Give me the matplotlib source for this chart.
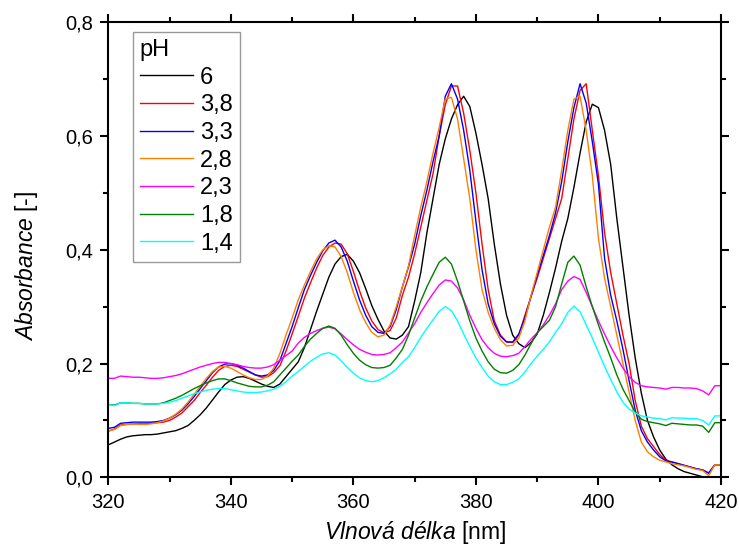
import numpy as np
import matplotlib
matplotlib.use("Agg")
import matplotlib.pyplot as plt
from matplotlib.ticker import MultipleLocator, FuncFormatter

# ---- data: absorbance spectra (1 nm step) ----
wavelength = np.arange(320, 421)

ph_6 = [
    0.057, 0.062, 0.067, 0.071, 0.073, 0.074, 0.075, 0.075, 0.076, 0.078,
    0.080, 0.082, 0.086, 0.091, 0.100, 0.110, 0.122, 0.136, 0.150, 0.163,
    0.171, 0.176, 0.177, 0.174, 0.169, 0.164, 0.160, 0.158, 0.164, 0.177,
    0.190, 0.203, 0.228, 0.260, 0.292, 0.322, 0.352, 0.375, 0.388, 0.392,
    0.380, 0.360, 0.332, 0.302, 0.278, 0.257, 0.245, 0.243, 0.250, 0.265,
    0.310, 0.360, 0.430, 0.490, 0.550, 0.595, 0.630, 0.655, 0.670, 0.652,
    0.605, 0.550, 0.490, 0.410, 0.340, 0.285, 0.250, 0.235, 0.228, 0.237,
    0.252, 0.285, 0.325, 0.368, 0.415, 0.455, 0.510, 0.570, 0.625, 0.656,
    0.650, 0.610, 0.550, 0.455, 0.370, 0.285, 0.210, 0.148, 0.100, 0.071,
    0.048, 0.032, 0.022, 0.015, 0.010, 0.007, 0.004, 0.001, 0.000, -0.002,
    -0.003,
]
ph_3_8 = [
    0.081, 0.085, 0.092, 0.093, 0.094, 0.094, 0.094, 0.095, 0.096, 0.097,
    0.100, 0.106, 0.113, 0.124, 0.135, 0.149, 0.162, 0.176, 0.188, 0.195,
    0.197, 0.195, 0.190, 0.185, 0.180, 0.176, 0.177, 0.184, 0.196, 0.222,
    0.252, 0.283, 0.315, 0.342, 0.368, 0.390, 0.405, 0.412, 0.410, 0.393,
    0.362, 0.328, 0.298, 0.275, 0.260, 0.254, 0.258, 0.280, 0.320, 0.352,
    0.393, 0.440, 0.487, 0.534, 0.600, 0.655, 0.688, 0.688, 0.640, 0.575,
    0.500, 0.410, 0.330, 0.275, 0.250, 0.238, 0.237, 0.250, 0.285, 0.318,
    0.350, 0.385, 0.420, 0.455, 0.490, 0.560, 0.630, 0.680, 0.692, 0.610,
    0.530, 0.430, 0.360, 0.305, 0.250, 0.200, 0.135, 0.090, 0.068, 0.054,
    0.040, 0.030, 0.027, 0.024, 0.021, 0.018, 0.015, 0.013, 0.008, 0.022,
    0.022,
]
ph_3_3 = [
    0.086, 0.088, 0.095, 0.096, 0.097, 0.097, 0.097, 0.097, 0.098, 0.100,
    0.104, 0.110, 0.118, 0.129, 0.142, 0.156, 0.170, 0.184, 0.194, 0.199,
    0.200, 0.197, 0.192, 0.186, 0.180, 0.178, 0.180, 0.188, 0.205, 0.235,
    0.265, 0.298, 0.330, 0.355, 0.378, 0.398, 0.412, 0.417, 0.405, 0.380,
    0.345, 0.312, 0.285, 0.265, 0.255, 0.253, 0.265, 0.295, 0.335, 0.370,
    0.410, 0.460, 0.505, 0.555, 0.600, 0.670, 0.692, 0.665, 0.610, 0.540,
    0.450, 0.365, 0.305, 0.270, 0.248, 0.238, 0.238, 0.252, 0.280, 0.318,
    0.355, 0.390, 0.425, 0.465, 0.520, 0.590, 0.650, 0.692, 0.658, 0.590,
    0.515, 0.385, 0.320, 0.275, 0.225, 0.170, 0.118, 0.082, 0.062, 0.048,
    0.036, 0.029, 0.027, 0.024, 0.021, 0.018, 0.015, 0.013, 0.007, 0.022,
    0.022,
]
ph_2_8 = [
    0.082, 0.084, 0.091, 0.093, 0.094, 0.093, 0.093, 0.094, 0.096, 0.099,
    0.104, 0.111, 0.120, 0.132, 0.146, 0.160, 0.174, 0.186, 0.194, 0.195,
    0.192, 0.186, 0.180, 0.175, 0.172, 0.172, 0.178, 0.192, 0.218, 0.250,
    0.280, 0.312, 0.338, 0.362, 0.384, 0.400, 0.407, 0.405, 0.388, 0.360,
    0.325, 0.295, 0.272, 0.255, 0.247, 0.250, 0.268, 0.300, 0.335, 0.372,
    0.425, 0.475, 0.520, 0.570, 0.615, 0.665, 0.668, 0.630, 0.560, 0.490,
    0.400, 0.330, 0.290, 0.262, 0.242, 0.231, 0.232, 0.245, 0.275, 0.320,
    0.360, 0.400, 0.440, 0.475, 0.540, 0.610, 0.665, 0.670, 0.610, 0.530,
    0.420, 0.350, 0.300, 0.250, 0.200, 0.150, 0.100, 0.062, 0.045, 0.036,
    0.030, 0.027, 0.024, 0.022, 0.020, 0.017, 0.014, 0.012, 0.003, 0.022,
    0.022,
]
ph_2_3 = [
    0.174, 0.174, 0.178, 0.177, 0.176, 0.176, 0.175, 0.174, 0.174, 0.175,
    0.177, 0.179, 0.182, 0.186, 0.190, 0.194, 0.197, 0.200, 0.202, 0.202,
    0.200, 0.198, 0.195, 0.193, 0.192, 0.192, 0.194, 0.198, 0.206, 0.214,
    0.222, 0.236, 0.246, 0.253, 0.258, 0.262, 0.264, 0.261, 0.252, 0.242,
    0.233, 0.225, 0.220, 0.216, 0.215, 0.216, 0.219, 0.228, 0.238, 0.254,
    0.270, 0.290, 0.307, 0.323, 0.338, 0.347, 0.345, 0.333, 0.312, 0.285,
    0.262, 0.242, 0.228, 0.218, 0.213, 0.212, 0.214, 0.218, 0.230, 0.243,
    0.254, 0.268, 0.285, 0.305, 0.330, 0.345, 0.353, 0.348, 0.325, 0.300,
    0.275, 0.252, 0.230, 0.210, 0.192, 0.177, 0.167, 0.161, 0.159, 0.158,
    0.157, 0.155, 0.158, 0.158, 0.157, 0.157, 0.156, 0.152, 0.145, 0.161,
    0.161,
]
ph_1_8 = [
    0.128, 0.127, 0.131, 0.131, 0.130, 0.130, 0.129, 0.129, 0.129, 0.131,
    0.135, 0.139, 0.144, 0.150, 0.156, 0.161, 0.166, 0.170, 0.173, 0.173,
    0.170, 0.166, 0.163, 0.160, 0.159, 0.159, 0.162, 0.168, 0.180, 0.192,
    0.204, 0.215, 0.230, 0.243, 0.253, 0.262, 0.266, 0.262, 0.250, 0.233,
    0.218, 0.206, 0.198, 0.193, 0.192, 0.193, 0.197, 0.210, 0.225, 0.250,
    0.280, 0.310, 0.335, 0.357, 0.378, 0.387, 0.375, 0.345, 0.310, 0.275,
    0.245, 0.222, 0.203, 0.190, 0.184, 0.183, 0.188, 0.198, 0.215, 0.235,
    0.254, 0.265, 0.276, 0.300, 0.340, 0.378, 0.389, 0.373, 0.335, 0.300,
    0.268, 0.238, 0.210, 0.180, 0.155, 0.135, 0.115, 0.102, 0.098, 0.096,
    0.094, 0.091, 0.095, 0.094, 0.093, 0.092, 0.092, 0.090, 0.079, 0.096,
    0.096,
]
ph_1_4 = [
    0.128, 0.126, 0.131, 0.131, 0.130, 0.130, 0.129, 0.129, 0.129, 0.130,
    0.132, 0.135, 0.139, 0.143, 0.147, 0.150, 0.153, 0.155, 0.156, 0.156,
    0.154, 0.152, 0.150, 0.149, 0.149, 0.150, 0.152, 0.155, 0.160, 0.168,
    0.178, 0.186, 0.195, 0.204, 0.211, 0.217, 0.219, 0.215, 0.205, 0.193,
    0.183, 0.175, 0.170, 0.168, 0.170, 0.175, 0.182, 0.190, 0.202, 0.212,
    0.228, 0.246, 0.262, 0.277, 0.292, 0.300, 0.293, 0.275, 0.252, 0.230,
    0.210, 0.193, 0.178, 0.168, 0.163, 0.163, 0.167, 0.173, 0.185, 0.200,
    0.213, 0.225, 0.238, 0.255, 0.270, 0.290, 0.301, 0.291, 0.268, 0.245,
    0.220, 0.195, 0.172, 0.150, 0.132, 0.120, 0.113, 0.108, 0.106, 0.104,
    0.103, 0.101, 0.105, 0.104, 0.104, 0.103, 0.103, 0.100, 0.092, 0.108,
    0.108,
]

labels = ["6", "3,8", "3,3", "2,8", "2,3", "1,8", "1,4"]
series = [ph_6, ph_3_8, ph_3_3, ph_2_8, ph_2_3, ph_1_8, ph_1_4]
colors = ["black", "#ff0000", "#0000ff", "#ff8000", "#ff00ff", "#008000", "#00ffff"]

plt.rcParams["font.family"] = "Liberation Sans"
plt.rcParams["mathtext.fontset"] = "custom"
plt.rcParams["mathtext.rm"] = "Liberation Sans"
plt.rcParams["mathtext.it"] = "Liberation Sans:italic"

fig = plt.figure(figsize=(7.39, 5.48), dpi=100)
ax = fig.add_axes([0.1466, 0.1290, 0.9756 - 0.1466, 0.9593 - 0.1290])

for y, lab, c in zip(series, labels, colors):
    ax.plot(wavelength, y, color=c, lw=1.0, label=lab)

ax.set_xlim(320, 420)
ax.set_ylim(0, 0.8)
ax.xaxis.set_major_locator(MultipleLocator(20))
ax.xaxis.set_minor_locator(MultipleLocator(10))
ax.yaxis.set_major_locator(MultipleLocator(0.2))
ax.yaxis.set_minor_locator(MultipleLocator(0.1))
ax.yaxis.set_major_formatter(FuncFormatter(lambda v, p: f"{v:.1f}".replace(".", ",")))

for s in ax.spines.values():
    s.set_linewidth(1.5)
ax.tick_params(which="both", direction="out", top=True, right=True, width=1.5,
               labelsize=14.5, pad=5)
ax.tick_params(which="major", length=6)
ax.tick_params(which="minor", length=3.3)

ax.set_xlabel(r"$\it{Vlnová\ délka}$ [nm]", fontsize=16.5, labelpad=5)
ax.set_ylabel(r"$\it{Absorbance}$ [-]", fontsize=16.5)
ax.yaxis.set_label_coords(-0.112, 0.464)

leg = ax.legend(title="pH", loc="upper left", bbox_to_anchor=(0.040, 0.979),
                borderaxespad=0, fontsize=17, title_fontsize=17,
                frameon=True, fancybox=False, edgecolor="#808080",
                handlelength=2.25, labelspacing=0.24, handletextpad=0.3,
                borderpad=0.3, alignment="left")
leg.get_frame().set_linewidth(1.0)

plt.savefig("out.png", dpi=100)
